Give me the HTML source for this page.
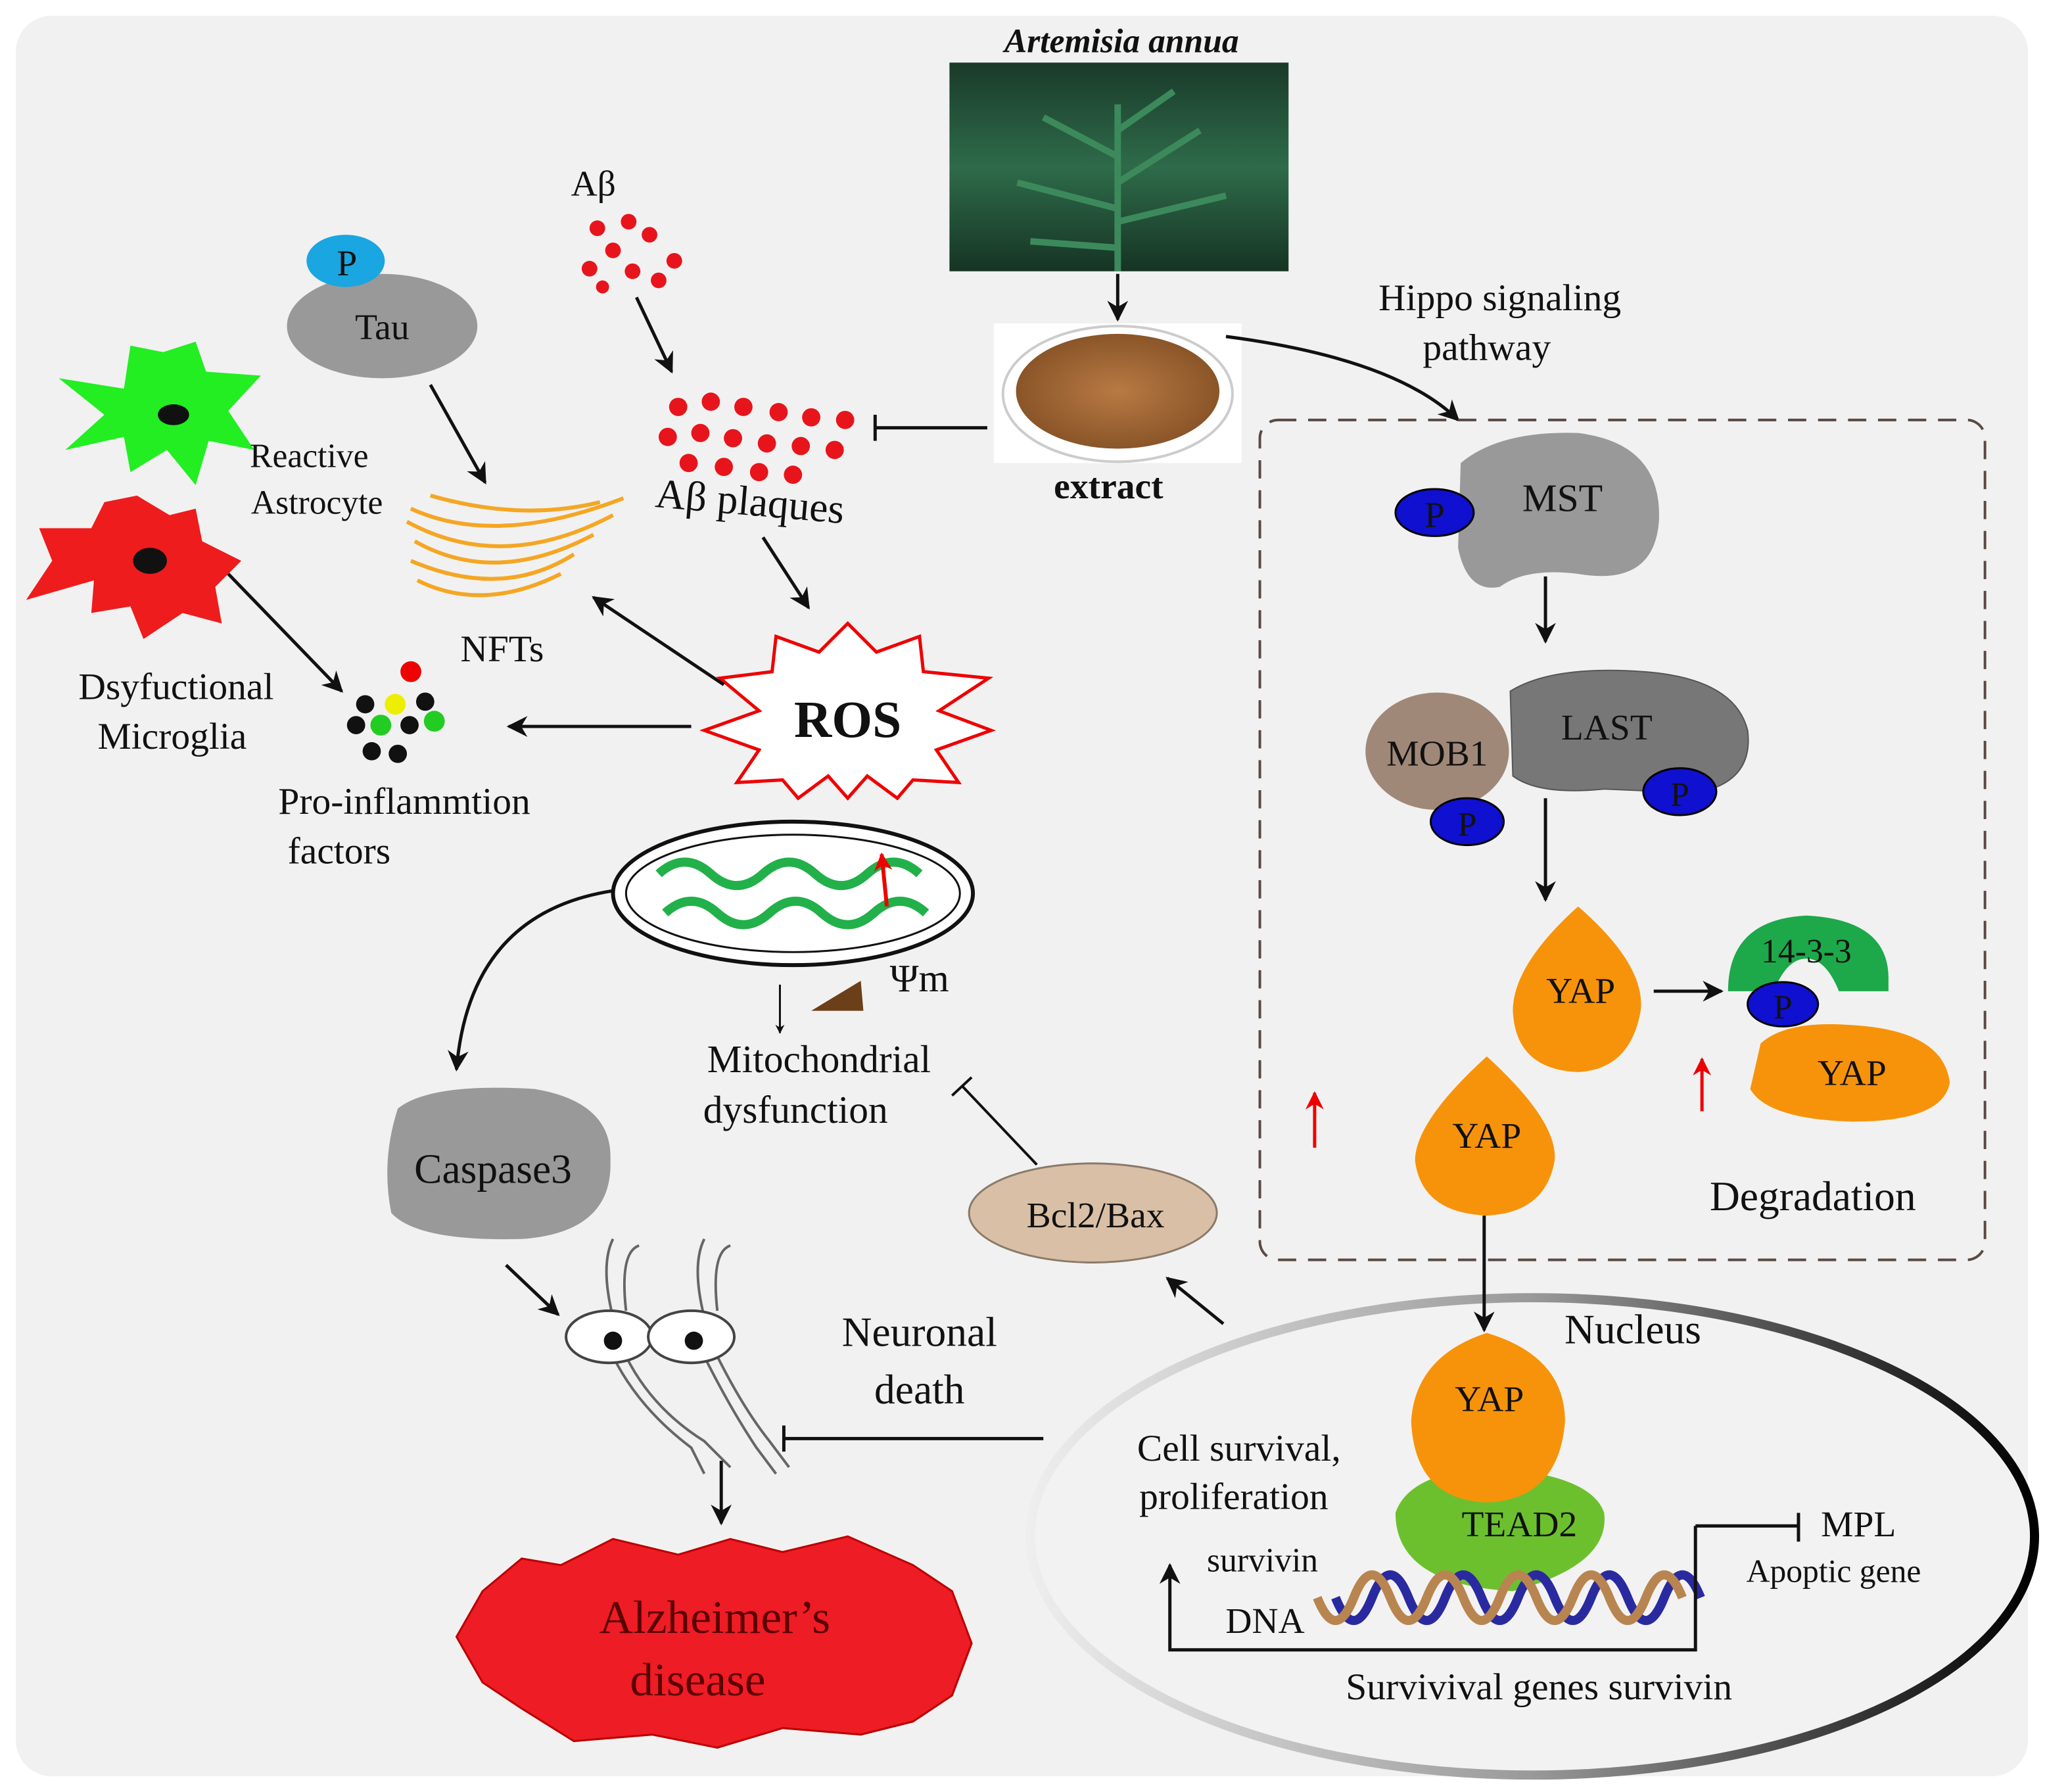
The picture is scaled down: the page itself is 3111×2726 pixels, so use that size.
<!DOCTYPE html>
<html><head><meta charset="utf-8"><style>
html,body{margin:0;padding:0;background:#fff;}
svg{display:block;}
text{font-family:"Liberation Serif",serif;fill:#111;}
</style></head><body>
<svg width="3111" height="2726" viewBox="0 0 1568 1374" xmlns="http://www.w3.org/2000/svg">
<defs>
<marker id="a" viewBox="0 0 10 10" refX="9" refY="5" markerWidth="7" markerHeight="7" orient="auto-start-reverse" markerUnits="userSpaceOnUse"><path d="M0,0 L10,5 L0,10 L3,5z" fill="#111"/></marker>
<marker id="ab" viewBox="0 0 10 10" refX="9" refY="5" markerWidth="16" markerHeight="16" orient="auto" markerUnits="userSpaceOnUse"><path d="M0,0 L10,5 L0,10 L3,5z" fill="#111"/></marker>
<marker id="ar" viewBox="0 0 10 10" refX="9" refY="5" markerWidth="14" markerHeight="14" orient="auto" markerUnits="userSpaceOnUse"><path d="M0,0 L10,5 L0,10 L3,5z" fill="#e00"/></marker>
<linearGradient id="ng" x1="0" x2="1" y1="0" y2="0"><stop offset="0" stop-color="#eee"/><stop offset="0.5" stop-color="#999"/><stop offset="1" stop-color="#000"/></linearGradient>
<linearGradient id="pg" x1="0" x2="0" y1="0" y2="1"><stop offset="0" stop-color="#1a3a2a"/><stop offset="0.5" stop-color="#2e6b4a"/><stop offset="1" stop-color="#163424"/></linearGradient>
<radialGradient id="bg"><stop offset="0" stop-color="#b87a44"/><stop offset="1" stop-color="#8a5528"/></radialGradient>
</defs>
<rect width="1568" height="1374" fill="#fff"/>
<rect x="12" y="12" width="1543" height="1350" rx="28" fill="#f1f1f1"/>

<!-- Artemisia -->
<text x="860" y="40" font-size="26" font-style="italic" font-weight="bold" text-anchor="middle">Artemisia annua</text>
<rect x="728" y="48" width="260" height="160" fill="url(#pg)"/>
<path d="M857,208 L857,80 M857,120 L800,90 M857,140 L920,100 M857,160 L780,140 M857,170 L940,150 M857,190 L790,185 M857,100 L900,70" stroke="#3c8a5c" stroke-width="5" fill="none"/>
<line x1="857" y1="210" x2="857" y2="245" stroke="#111" stroke-width="2.5" marker-end="url(#ab)"/>
<rect x="762" y="248" width="190" height="107" fill="#fff"/>
<ellipse cx="857" cy="302" rx="88" ry="52" fill="#fff" stroke="#ccc" stroke-width="2"/>
<ellipse cx="857" cy="300" rx="78" ry="44" fill="url(#bg)"/>
<text x="850" y="382" font-size="28" font-weight="bold" text-anchor="middle">extract</text>
<line x1="757" y1="328" x2="672" y2="328" stroke="#111" stroke-width="2.5"/>
<line x1="671" y1="318" x2="671" y2="338" stroke="#111" stroke-width="2.5"/>
<path d="M940,258 Q1070,275 1118,322" stroke="#111" stroke-width="2.5" fill="none" marker-end="url(#ab)"/>
<text x="1150" y="238" font-size="29" text-anchor="middle">Hippo signaling</text>
<text x="1140" y="276" font-size="29" text-anchor="middle">pathway</text>

<!-- Hippo box -->
<rect x="966" y="322" width="556" height="644" rx="14" fill="none" stroke="#5a4a44" stroke-width="2" stroke-dasharray="14,9"/>
<path d="M1120,355 Q1150,330 1210,332 Q1275,340 1272,400 Q1268,450 1210,440 Q1170,435 1150,450 Q1125,455 1118,420z" fill="#999"/>
<ellipse cx="1100" cy="393" rx="30" ry="18" fill="#1010d0" stroke="#000" stroke-width="1.5"/>
<text x="1100" y="404" font-size="28" text-anchor="middle">P</text>
<text x="1198" y="392" font-size="30" text-anchor="middle">MST</text>
<line x1="1185" y1="442" x2="1185" y2="492" stroke="#111" stroke-width="2.5" marker-end="url(#ab)"/>
<path d="M1158,530 Q1190,510 1260,515 Q1330,520 1340,560 Q1345,600 1300,608 L1230,605 Q1180,610 1160,595z" fill="#777" stroke="#555"/>
<ellipse cx="1102" cy="576" rx="55" ry="45" fill="#a08878"/>
<text x="1102" y="587" font-size="28" text-anchor="middle">MOB1</text>
<text x="1232" y="567" font-size="28" text-anchor="middle">LAST</text>
<ellipse cx="1125" cy="630" rx="28" ry="18" fill="#1010d0" stroke="#000" stroke-width="1.5"/>
<text x="1125" y="641" font-size="26" text-anchor="middle">P</text>
<ellipse cx="1288" cy="607" rx="28" ry="18" fill="#1010d0" stroke="#000" stroke-width="1.5"/>
<text x="1288" y="618" font-size="26" text-anchor="middle">P</text>
<line x1="1185" y1="612" x2="1185" y2="690" stroke="#111" stroke-width="2.5" marker-end="url(#ab)"/>
<path d="M1210,695 Q1262,740 1258,775 Q1250,820 1210,822 Q1162,820 1160,775 Q1160,740 1210,695z" fill="#f7930a"/>
<text x="1212" y="769" font-size="28" text-anchor="middle">YAP</text>
<line x1="1268" y1="760" x2="1320" y2="760" stroke="#111" stroke-width="2.5" marker-end="url(#ab)"/>
<path d="M1325,760 Q1325,705 1385,702 Q1448,705 1448,750 L1448,760 L1410,760 Q1400,735 1385,735 Q1370,735 1360,760z" fill="#1da84a"/>
<text x="1385" y="738" font-size="26" text-anchor="middle">14-3-3</text>
<path d="M1350,800 Q1370,782 1420,786 Q1490,790 1495,830 Q1490,860 1420,860 Q1355,858 1342,835z" fill="#f7930a"/>
<ellipse cx="1367" cy="770" rx="27" ry="17" fill="#1010d0" stroke="#000" stroke-width="1.5"/>
<text x="1367" y="781" font-size="26" text-anchor="middle">P</text>
<text x="1420" y="832" font-size="28" text-anchor="middle">YAP</text>
<line x1="1008" y1="880" x2="1008" y2="838" stroke="#e00" stroke-width="2.5" marker-end="url(#ar)"/>
<line x1="1305" y1="852" x2="1305" y2="812" stroke="#e00" stroke-width="2.5" marker-end="url(#ar)"/>
<path d="M1140,810 Q1195,860 1192,890 Q1185,930 1140,932 Q1090,930 1085,890 Q1085,860 1140,810z" fill="#f7930a"/>
<text x="1140" y="880" font-size="28" text-anchor="middle">YAP</text>
<text x="1390" y="928" font-size="32" text-anchor="middle">Degradation</text>

<!-- Nucleus -->
<ellipse cx="1175" cy="1178" rx="385" ry="183" fill="#f2f2f2" stroke="url(#ng)" stroke-width="7"/>
<line x1="1138" y1="932" x2="1138" y2="1020" stroke="#111" stroke-width="2.5" marker-end="url(#ab)"/>
<text x="1252" y="1030" font-size="32" text-anchor="middle">Nucleus</text>
<path d="M1070,1160 Q1080,1130 1140,1125 Q1220,1130 1230,1160 Q1235,1200 1160,1220 Q1070,1215 1070,1160z" fill="#6cc02e"/>
<path d="M1140,1022 Q1200,1040 1200,1090 Q1195,1150 1140,1152 Q1085,1150 1082,1090 Q1085,1040 1140,1022z" fill="#f7930a"/>
<text x="1142" y="1082" font-size="28" text-anchor="middle">YAP</text>
<text x="1165" y="1178" font-size="28" text-anchor="middle">TEAD2</text>
<path d="M1010,1225 q14,35 28,0 q14,-35 28,0 q14,35 28,0 q14,-35 28,0 q14,35 28,0 q14,-35 28,0 q14,35 28,0 q14,-35 28,0 q14,35 28,0 q14,-35 28,0" stroke="#2a2aa0" stroke-width="7" fill="none" transform="translate(14,0)"/>
<path d="M1010,1225 q14,35 28,0 q14,-35 28,0 q14,35 28,0 q14,-35 28,0 q14,35 28,0 q14,-35 28,0 q14,35 28,0 q14,-35 28,0 q14,35 28,0 q14,-35 28,0" stroke="#b88550" stroke-width="7" fill="none"/>
<text x="970" y="1252" font-size="28" text-anchor="middle">DNA</text>
<text x="968" y="1205" font-size="26" text-anchor="middle">survivin</text>
<polyline points="1300,1170 1300,1265 897,1265 897,1200" stroke="#111" stroke-width="2.5" fill="none" marker-end="url(#ab)"/>
<line x1="1300" y1="1170" x2="1378" y2="1170" stroke="#111" stroke-width="2.5"/>
<line x1="1379" y1="1160" x2="1379" y2="1182" stroke="#111" stroke-width="2.5"/>
<text x="1425" y="1178" font-size="28" text-anchor="middle">MPL</text>
<text x="1406" y="1213" font-size="25" text-anchor="middle">Apoptic gene</text>
<text x="1180" y="1303" font-size="29" text-anchor="middle">Survivival genes survivin</text>
<text x="950" y="1120" font-size="29" text-anchor="middle">Cell survival,</text>
<text x="946" y="1157" font-size="29" text-anchor="middle">proliferation</text>

<!-- Bcl2 -->
<line x1="938" y1="1015" x2="895" y2="980" stroke="#111" stroke-width="2.5" marker-end="url(#ab)"/>
<ellipse cx="838" cy="930" rx="95" ry="38" fill="#d9bfa6" stroke="#8a7a6a" stroke-width="1.5"/>
<text x="840" y="941" font-size="28" text-anchor="middle">Bcl2/Bax</text>
<line x1="795" y1="893" x2="738" y2="833" stroke="#111" stroke-width="2"/>
<line x1="730" y1="840" x2="745" y2="826" stroke="#111" stroke-width="2"/>
<text x="628" y="822" font-size="30" text-anchor="middle">Mitochondrial</text>
<text x="610" y="861" font-size="30" text-anchor="middle">dysfunction</text>

<!-- Mitochondrion -->
<ellipse cx="608" cy="685" rx="138" ry="55" fill="#fff" stroke="#111" stroke-width="3"/>
<ellipse cx="608" cy="685" rx="128" ry="45" fill="none" stroke="#111" stroke-width="1.5"/>
<path d="M505,670 q20,-18 40,0 t40,0 t40,0 t40,0 t40,0 M510,700 q20,-18 40,0 t40,0 t40,0 t40,0 t40,0" stroke="#22b04a" stroke-width="7" fill="none"/>
<line x1="680" y1="695" x2="676" y2="655" stroke="#e00" stroke-width="3" marker-end="url(#ar)"/>
<line x1="598" y1="755" x2="598" y2="792" stroke="#111" stroke-width="1.5" marker-end="url(#a)"/>
<polygon points="622,775 660,752 662,775" fill="#6b3f17"/>
<text x="705" y="760" font-size="30" text-anchor="middle">Ψm</text>

<!-- Caspase -->
<path d="M470,683 Q360,700 350,820" stroke="#111" stroke-width="2.5" fill="none" marker-end="url(#ab)"/>
<path d="M305,850 Q330,830 410,835 Q470,845 468,890 Q470,945 400,950 Q320,952 300,930 Q292,890 305,850z" fill="#999"/>
<text x="378" y="907" font-size="32" text-anchor="middle">Caspase3</text>
<line x1="388" y1="970" x2="428" y2="1008" stroke="#111" stroke-width="2.5" marker-end="url(#ab)"/>
<!-- neurons -->
<g stroke="#666" stroke-width="2" fill="none">
<path d="M470,1010 Q460,970 470,950 M480,1005 Q475,960 490,955 M470,1040 Q490,1080 530,1110 L540,1130 M480,1040 Q500,1080 540,1105 L560,1125"/>
<path d="M540,1010 Q530,970 540,950 M550,1005 Q545,960 560,955 M540,1040 Q560,1080 580,1110 L595,1130 M550,1040 Q570,1080 590,1105 L605,1125"/>
</g>
<ellipse cx="467" cy="1025" rx="33" ry="20" fill="#fff" stroke="#444" stroke-width="2"/>
<ellipse cx="530" cy="1025" rx="33" ry="20" fill="#fff" stroke="#444" stroke-width="2"/>
<circle cx="470" cy="1028" r="7" fill="#111"/><circle cx="532" cy="1028" r="7" fill="#111"/>
<line x1="553" y1="1120" x2="553" y2="1168" stroke="#111" stroke-width="2.5" marker-end="url(#ab)"/>
<path d="M370,1220 L400,1195 L430,1200 L470,1180 L520,1192 L560,1180 L600,1190 L650,1178 L700,1200 L730,1220 L745,1260 L730,1300 L700,1320 L660,1330 L600,1325 L550,1340 L500,1330 L440,1335 L400,1310 L370,1290 L350,1255z" fill="#ee1c24" stroke="#b00" stroke-width="1.5"/>
<text x="548" y="1252" font-size="36" text-anchor="middle" style="fill:#5a0000">Alzheimer’s</text>
<text x="535" y="1300" font-size="36" text-anchor="middle" style="fill:#5a0000">disease</text>
<text x="705" y="1032" font-size="32" text-anchor="middle">Neuronal</text>
<text x="705" y="1076" font-size="32" text-anchor="middle">death</text>
<line x1="800" y1="1103" x2="602" y2="1103" stroke="#111" stroke-width="2.5"/>
<line x1="601" y1="1093" x2="601" y2="1113" stroke="#111" stroke-width="2.5"/>

<!-- ROS -->
<polygon points="650,478 672,500 705,488 708,515 758,520 720,545 760,560 718,575 735,600 700,598 688,612 665,595 650,612 635,595 612,612 600,598 565,600 582,575 540,560 582,545 552,520 592,515 595,488 628,500" fill="#fff" stroke="#e00" stroke-width="2.5"/>
<text x="650" y="565" font-size="40" font-weight="bold" text-anchor="middle">ROS</text>
<line x1="530" y1="557" x2="390" y2="557" stroke="#111" stroke-width="2.5" marker-end="url(#ab)"/>
<line x1="555" y1="525" x2="455" y2="458" stroke="#111" stroke-width="2.5" marker-end="url(#ab)"/>
<line x1="585" y1="412" x2="620" y2="466" stroke="#111" stroke-width="2.5" marker-end="url(#ab)"/>

<!-- Abeta -->
<text x="455" y="150" font-size="28" text-anchor="middle">Aβ</text>
<g fill="#e8141c">
<circle cx="458" cy="175" r="6"/><circle cx="482" cy="170" r="6"/><circle cx="498" cy="180" r="6"/><circle cx="470" cy="192" r="6"/><circle cx="452" cy="206" r="6"/><circle cx="485" cy="208" r="6"/><circle cx="517" cy="200" r="6"/><circle cx="505" cy="215" r="6"/><circle cx="462" cy="220" r="5"/>
<circle cx="520" cy="312" r="7"/><circle cx="545" cy="308" r="7"/><circle cx="570" cy="312" r="7"/><circle cx="597" cy="316" r="7"/><circle cx="622" cy="320" r="7"/><circle cx="648" cy="322" r="7"/>
<circle cx="512" cy="335" r="7"/><circle cx="537" cy="332" r="7"/><circle cx="562" cy="336" r="7"/><circle cx="588" cy="340" r="7"/><circle cx="614" cy="342" r="7"/><circle cx="640" cy="345" r="7"/>
<circle cx="528" cy="355" r="7"/><circle cx="555" cy="358" r="7"/><circle cx="582" cy="362" r="7"/><circle cx="608" cy="364" r="7"/>
</g>
<line x1="488" y1="228" x2="515" y2="285" stroke="#111" stroke-width="2.5" marker-end="url(#ab)"/>
<text x="575" y="395" font-size="32" text-anchor="middle" transform="rotate(5 575 385)">Aβ plaques</text>

<!-- Tau -->
<ellipse cx="293" cy="250" rx="73" ry="40" fill="#999"/>
<text x="293" y="260" font-size="28" text-anchor="middle">Tau</text>
<ellipse cx="265" cy="200" rx="30" ry="20" fill="#1aa6e0"/>
<text x="266" y="211" font-size="28" text-anchor="middle">P</text>
<line x1="330" y1="295" x2="372" y2="370" stroke="#111" stroke-width="2.5" marker-end="url(#ab)"/>
<g stroke="#f5a623" stroke-width="3" fill="none">
<path d="M315,390 Q380,420 478,382 M312,400 Q385,440 470,395 M318,415 Q380,450 455,410 M315,430 Q385,460 440,425 M320,445 Q370,470 430,440 M330,380 Q400,400 460,385"/>
</g>
<text x="385" y="507" font-size="29" text-anchor="middle">NFTs</text>

<!-- Astrocyte / microglia -->
<path d="M125,270 L150,262 L158,285 L200,288 L175,315 L195,345 L160,338 L150,372 L128,345 L100,362 L95,335 L50,345 L80,318 L45,290 L95,298 L100,265z" fill="#22ee22"/>
<ellipse cx="133" cy="318" rx="12" ry="8" fill="#111"/>
<path d="M105,380 L130,395 L150,390 L155,415 L185,430 L165,450 L170,478 L140,470 L110,490 L100,465 L70,470 L72,445 L20,460 L40,430 L30,405 L70,405 L80,385z" fill="#ee1c1c"/>
<ellipse cx="115" cy="430" rx="13" ry="10" fill="#111"/>
<text x="237" y="358" font-size="26" text-anchor="middle">Reactive</text>
<text x="243" y="394" font-size="26" text-anchor="middle">Astrocyte</text>
<line x1="175" y1="440" x2="262" y2="530" stroke="#111" stroke-width="2.5" marker-end="url(#ab)"/>
<text x="135" y="536" font-size="29" text-anchor="middle">Dsyfuctional</text>
<text x="132" y="574" font-size="29" text-anchor="middle">Microglia</text>
<circle cx="315" cy="515" r="8" fill="#e00"/>
<circle cx="280" cy="540" r="7" fill="#111"/><circle cx="303" cy="540" r="8" fill="#ee0"/><circle cx="326" cy="538" r="7" fill="#111"/>
<circle cx="273" cy="556" r="7" fill="#111"/><circle cx="292" cy="556" r="8" fill="#22cc22"/><circle cx="314" cy="556" r="7" fill="#111"/><circle cx="333" cy="553" r="8" fill="#22cc22"/>
<circle cx="285" cy="576" r="7" fill="#111"/><circle cx="305" cy="578" r="7" fill="#111"/>
<text x="310" y="624" font-size="29" text-anchor="middle">Pro-inflammtion</text>
<text x="260" y="662" font-size="29" text-anchor="middle">factors</text>
</svg>
</body></html>
